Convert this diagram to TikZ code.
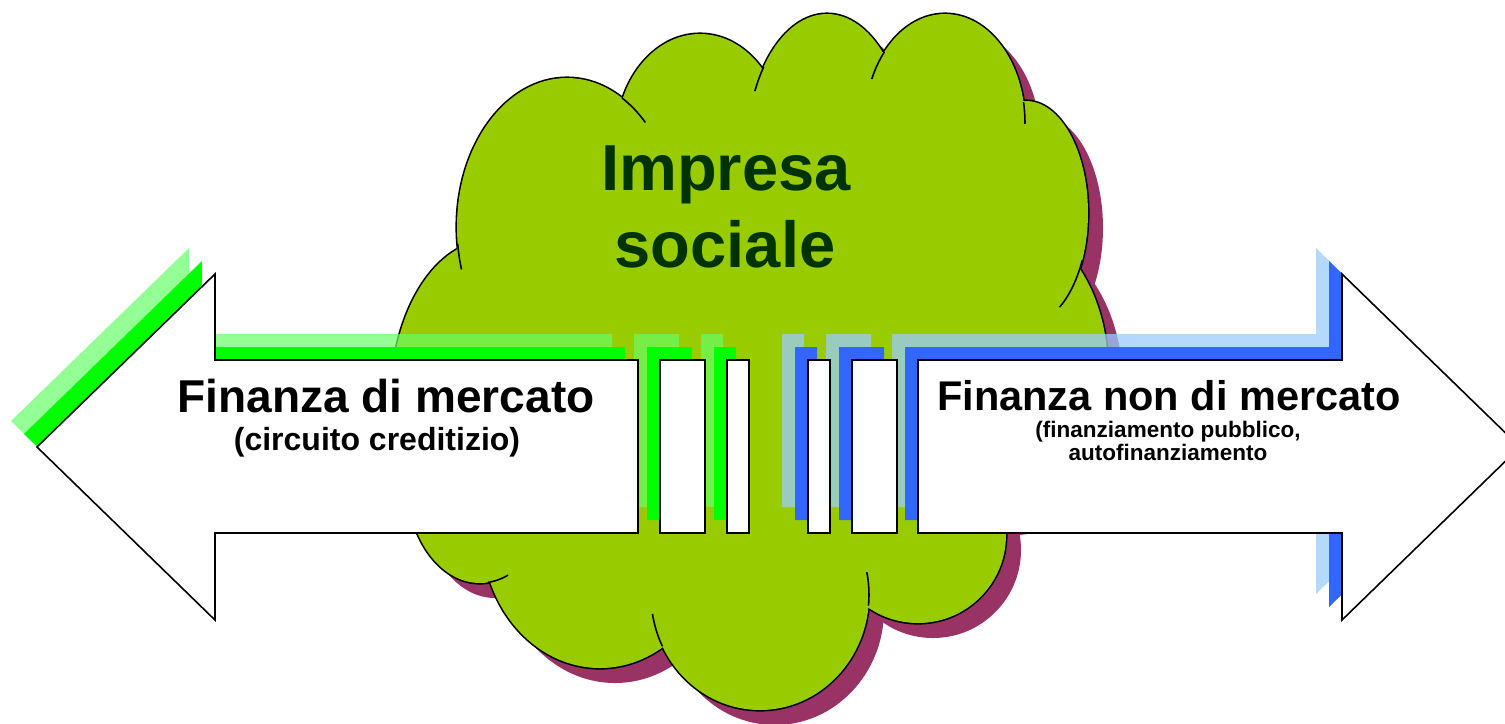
\documentclass[tikz,border=0pt]{standalone}
\usepackage{fontspec}
\setmainfont{Liberation Sans}
\definecolor{cloudgreen}{HTML}{99CC00}
\definecolor{cloudshade}{HTML}{993366}
\definecolor{inkgreen}{HTML}{003300}
\definecolor{marketdark}{HTML}{00FF00}
\definecolor{marketlight}{HTML}{66FF66}
\definecolor{publicdark}{HTML}{3366FF}
\definecolor{publiclight}{HTML}{99CCFF}
\newcommand\marketarrow{(638,360) -- (215,360) -- (215,274) -- (37,447) -- (215,620) -- (215,533) -- (638,533) -- cycle
    (660,360) rectangle (705,533) (727,360) rectangle (749,533)}
\newcommand\publicarrow{(918,360) -- (1342,360) -- (1342,274) -- (1520,447) -- (1342,620) -- (1342,533) -- (918,533) -- cycle
    (852,360) rectangle (897,533) (808,360) rectangle (830,533)}
\newcommand\cloudlobes{567/227/110/149, 700/140/84/106, 827/150/80/136, 945/123/80/109,
    1026/213/62/112, 1000/370/108/150, 918/535/88/88, 760/595/109/115,
    600/532/118/136, 480/480/73/103, 491/400/100/160}
\newcommand\cloudcore{(457,246) -- (624,98) -- (762,68) -- (883,52) -- (1023,103) -- (1078,265)
    -- (1000,515) -- (863,605) -- (664,645) -- (489,582) -- (440,500) -- cycle}
\begin{document}
\begin{tikzpicture}[
        x=0.01cm, y=-0.01cm,
        every node/.style={
                style={
                        inner sep=0pt, anchor=base, align=center
                    }
            }
    ]
    \tikzset {
        cloudline/.style = {draw=black, line width=0.9pt},
        cloudtail/.style = {draw=black, line width=0.45pt},
        arrowbody/.style = {fill=white, draw=black, line width=0.45pt, line join=miter},
        bigtitle/.style = {font=\bfseries\fontsize{18.5}{22}\selectfont, text=inkgreen},
        maintitle/.style = {font=\bfseries\fontsize{#1}{#1}\selectfont},
    }
    \useasboundingbox (0,0) rectangle (1505,723);
    \clip (0,0) rectangle (1505,723);
    % cloud
    \begin{scope}[shift={(15,15)}]
        \foreach \cx/\cy/\rx/\ry in \cloudlobes {
                \fill[cloudshade] (\cx,\cy) ellipse [x radius=\rx, y radius=\ry];
            }
        \fill[cloudshade] \cloudcore;
    \end{scope}
    \foreach \cx/\cy/\rx/\ry in \cloudlobes {
            \path[cloudline] (\cx,\cy) ellipse [x radius=\rx, y radius=\ry];
        }
    \foreach \cx/\cy/\rx/\ry in \cloudlobes {
            \fill[cloudgreen] (\cx,\cy) ellipse [x radius=\rx, y radius=\ry];
        }
    \fill[cloudgreen] \cloudcore;
    \foreach \cx/\cy/\rx/\ry/\mx/\my/\rr in {
            567/227/110/149/459/257/13, 567/227/110/149/635/109/17,
            827/150/80/136/759/79/13, 945/123/80/109/877/65/15,
            945/123/80/109/1024/113/11, 1026/213/62/112/1069/283/26,
            760/595/109/115/865/589/17, 760/595/109/115/658/630/17,
            480/480/73/103/498/579/11} {
            \begin{scope}
                \clip (\mx,\my) circle [radius=\rr];
                \path[cloudtail] (\cx,\cy) ellipse [x radius=\rx, y radius=\ry];
            \end{scope}
        }
    \node [bigtitle] (impresa) at (726,190) {Impresa};
    \node [bigtitle] (sociale) at (725,267) {sociale};
    % striped arrows
    \fill[marketlight, fill opacity=0.7, shift={(-26,-26)}] \marketarrow;
    \fill[marketdark, shift={(-13,-13)}] \marketarrow;
    \fill[publiclight, fill opacity=0.75, shift={(-26,-26)}] \publicarrow;
    \fill[publicdark, shift={(-13,-13)}] \publicarrow;
    \path[arrowbody] \marketarrow;
    \path[arrowbody] \publicarrow;
    \node [maintitle=13.1] (market) at (386,412) {Finanza di mercato};
    \node [maintitle=9.1] (credit) at (377,450) {(circuito creditizio)};
    \node [maintitle=11.8] (nonmarket) at (1169,410) {Finanza non di mercato};
    \node [maintitle=6.4] (public) at (1168,437) {(finanziamento pubblico,};
    \node [maintitle=6.4] (selffund) at (1168,460) {autofinanziamento};
\end{tikzpicture}
\end{document}
